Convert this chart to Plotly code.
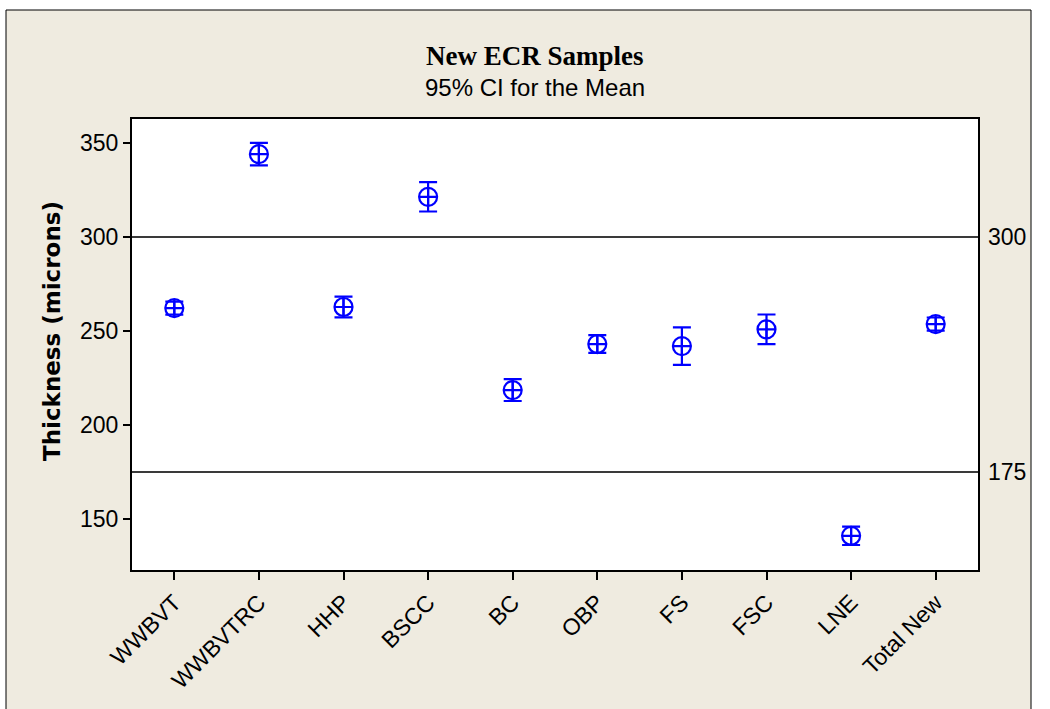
import plotly.graph_objects as go

# Sample groups with mean thickness and 95% CI half-widths (microns)
groups = ["WWBVT", "WWBVTRC", "HHP", "BSCC", "BC", "OBP", "FS", "FSC", "LNE", "Total New"]
means = [262.2, 344.1, 262.8, 321.4, 218.6, 243.1, 242.0, 250.9, 141.1, 253.7]
ci_half = [3.5, 6.0, 5.5, 7.8, 5.8, 4.7, 10.0, 7.9, 4.9, 3.5]

# Specification reference lines
ref_levels = [300, 175]
y_ticks = [150, 200, 250, 300, 350]

W, H = 1050, 709
L, R, T, B = 132, 72, 119, 139
PW, PH = W - L - R, H - T - B


def px_x(px):
    return (px - L) / PW


def px_y(py):
    return (H - B - py) / PH


BEIGE = "#EFEBE0"
SANS = "Liberation Sans, Arial, sans-serif"

fig = go.Figure()
fig.add_trace(go.Scatter(
    x=groups, y=means, mode="markers",
    marker=dict(symbol="circle-cross-open", size=18, color="#0000FF",
                line=dict(width=2.2, color="#0000FF")),
    error_y=dict(type="data", array=ci_half, color="#0000FF",
                 thickness=2.2, width=9),
    showlegend=False, cliponaxis=False,
))

shapes = [
    # framed beige page
    dict(type="rect", xref="paper", yref="paper", layer="below",
         x0=px_x(6), x1=px_x(1031), y0=px_y(740), y1=px_y(10),
         fillcolor=BEIGE, line=dict(color="black", width=1)),
    # white plotting area
    dict(type="rect", xref="paper", yref="paper", layer="below",
         x0=0, x1=1, y0=0, y1=1, fillcolor="white", line=dict(width=0)),
]
annotations = []
for lvl in ref_levels:
    shapes.append(dict(type="line", xref="paper", yref="y", x0=0, x1=1,
                       y0=lvl, y1=lvl, layer="below",
                       line=dict(color="#3a3a3a", width=2)))
    annotations.append(dict(xref="paper", yref="y", x=px_x(986), y=lvl,
                            text=str(lvl), showarrow=False, xanchor="left",
                            yanchor="middle",
                            font=dict(family=SANS, size=23, color="black")))

annotations += [
    dict(xref="paper", yref="paper", x=px_x(535), y=px_y(56),
         text="<b>New ECR Samples</b>", showarrow=False,
         xanchor="center", yanchor="middle",
         font=dict(family="Liberation Serif, Times New Roman, serif", size=27,
                   color="black")),
    dict(xref="paper", yref="paper", x=px_x(535), y=px_y(88),
         text="95% CI for the Mean", showarrow=False,
         xanchor="center", yanchor="middle",
         font=dict(family=SANS, size=24, color="black")),
    dict(xref="paper", yref="paper", x=px_x(52), y=px_y(331),
         text="<b>Thickness (microns)</b>", showarrow=False, textangle=-90,
         xanchor="center", yanchor="middle",
         font=dict(family="DejaVu Sans, sans-serif", size=23, color="black")),
]

fig.update_layout(
    width=W, height=H,
    margin=dict(l=L, r=R, t=T, b=B),
    paper_bgcolor="white", plot_bgcolor="white",
    shapes=shapes, annotations=annotations,
    xaxis=dict(type="category", range=[-0.5, 9.5], showgrid=False,
               zeroline=False, showline=True, linecolor="black", linewidth=2,
               mirror=True, ticks="outside", ticklen=8, tickwidth=2,
               tickcolor="black", tickangle=-45,
               tickfont=dict(family=SANS, size=23, color="black")),
    yaxis=dict(range=[122.9, 362.8], tickvals=y_ticks, showgrid=False,
               zeroline=False, showline=True, linecolor="black", linewidth=2,
               mirror=True, ticks="outside", ticklen=7, tickwidth=2,
               tickcolor="black",
               tickfont=dict(family=SANS, size=23, color="black")),
)

fig.write_html("out.html")
